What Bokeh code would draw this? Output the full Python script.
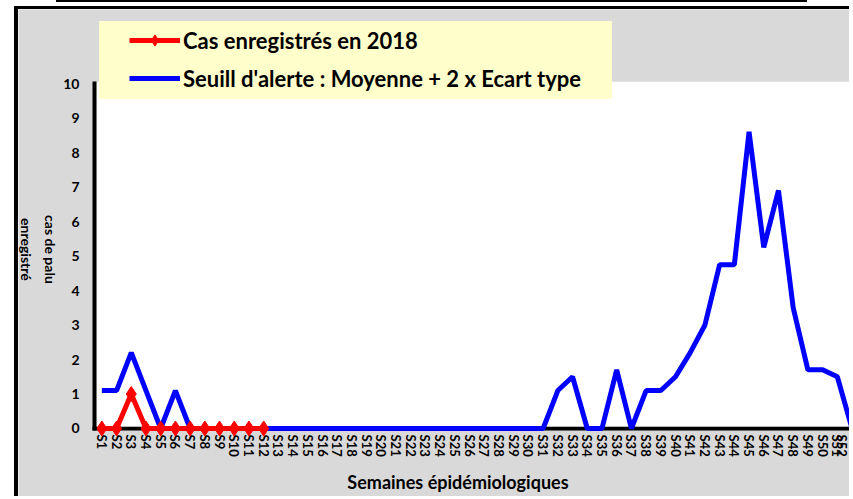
import math
from bokeh.plotting import figure
from bokeh.layouts import column
from bokeh.models import (Range1d, FixedTicker, Legend, LegendItem, BoxAnnotation,
                          Label, Div)
from bokeh.embed import file_html
from bokeh.resources import INLINE

# ---------------- data ----------------
weeks = ["S1", "S2", "S3", "S4", "S5", "S6", "S7", "S8", "S9", "S10",
         "S11", "S12", "S13", "S14", "S15", "S16", "S17", "S18", "S19", "S20",
         "S21", "S22", "S23", "S24", "S25", "S26", "S27", "S28", "S29", "S30",
         "S31", "S32", "S33", "S34", "S35", "S36", "S37", "S38", "S39", "S40",
         "S41", "S42", "S43", "S44", "S45", "S46", "S47", "S48", "S49", "S50",
         "S51", "S52"]
week_num = list(range(1, len(weeks) + 1))

seuil = [1.1, 1.1, 2.2, 1.1, 0, 1.1, 0, 0, 0, 0,
         0, 0, 0, 0, 0, 0, 0, 0, 0, 0,
         0, 0, 0, 0, 0, 0, 0, 0, 0, 0,
         0, 1.1, 1.5, 0, 0, 1.7, 0, 1.1, 1.1, 1.5,
         2.2, 3.0, 4.75, 4.75, 8.6, 5.25, 6.9, 3.5, 1.7, 1.7,
         1.5, 0]

cas_2018 = [0, 0, 1, 0, 0, 0, 0, 0, 0, 0, 0, 0]
cas_weeks = week_num[:len(cas_2018)]

y_ticks = [0, 1, 2, 3, 4, 5, 6, 7, 8, 9, 10]
y_max = 10.05

label_cas = "Cas enregistrés en 2018"
label_seuil = "Seuill d'alerte : Moyenne + 2 x Ecart type"
x_title = "Semaines épidémiologiques"
y_title = "cas de palu\nenregistré"

FONT = "Lato"
GRAY = "#d9d9d9"
YELLOW = "#ffffcc"

# the frame covers the whole grey chart panel (page x 18..853, y 9..499)
# week 0.5 sits at page x 94 (14.71 px / week); value 0 at page y 428 (34.5 px / unit)
p = figure(width=835, height=490, output_backend="svg", toolbar_location=None,
           x_range=Range1d(-4.667, 52.1), y_range=Range1d(-2.058, 12.145),
           min_border_left=0, min_border_right=0, min_border_top=0,
           min_border_bottom=0, margin=(0, 0, 0, 14),
           border_fill_color=GRAY, background_fill_color=GRAY,
           outline_line_color=None)
p.styles = {"border-left": "4px solid black", "border-top": "3px solid black"}
p.grid.visible = False

# white plotting area
p.add_layout(BoxAnnotation(left=0.636, right=60, bottom=0.058, top=y_max,
                           fill_color="white", fill_alpha=1, line_alpha=0,
                           level="underlay"))

# axes drawn at fixed positions inside the frame
p.xaxis.fixed_location = 0
p.xaxis.bounds = (0.364, 60)
p.xaxis.level = "underlay"
p.xaxis.ticker = FixedTicker(ticks=week_num)
p.xaxis.major_label_overrides = {n: w for n, w in zip(week_num, weeks)}
p.xaxis.major_label_orientation = "vertical"
p.yaxis.fixed_location = 0.5
p.yaxis.bounds = (-0.06, y_max)
p.yaxis.ticker = FixedTicker(ticks=y_ticks)
for ax in (p.xaxis, p.yaxis):
    ax.axis_line_color = "black"
    ax.axis_line_width = 4
    ax.major_tick_line_color = None
    ax.minor_tick_line_color = None
    ax.major_tick_out = 0
    ax.major_tick_in = 0
    ax.major_label_text_font = FONT
    ax.major_label_text_font_style = "bold"
    ax.major_label_text_color = "black"
p.xaxis.major_label_text_font_size = "13px"
p.xaxis.major_label_standoff = 6
p.yaxis.major_label_text_font_size = "14px"
p.yaxis.major_label_standoff = 15

# axis titles
p.add_layout(Label(x=-3.307, y=5.19, text=y_title, angle=-math.pi / 2,
                   text_align="center", text_baseline="middle",
                   text_font=FONT, text_font_style="bold", text_font_size="14px",
                   text_line_height=1.4, text_color="black"))
p.add_layout(Label(x=25.21, y=-1.565, text=x_title,
                   text_align="center", text_baseline="middle",
                   text_font=FONT, text_font_style="bold", text_font_size="18px",
                   text_color="black"))

# series
blue = p.line(week_num, seuil, line_color="#0000ff", line_width=5)
red_line = p.line(cas_weeks, cas_2018, line_color="#ff0000", line_width=5)
red_pts = p.scatter(cas_weeks, cas_2018, marker="diamond", size=15,
                    fill_color="#ff0000", line_color="#ff0000")

# yellow legend box (background)
dummy = p.line([1], [0], line_alpha=0)
bg_legend = Legend(items=[LegendItem(label=" ", renderers=[dummy])],
                   location=(99 - 18, 499 - 99), padding=0, spacing=0, margin=0,
                   glyph_width=513, glyph_height=78, label_standoff=0,
                   label_width=0, label_height=0, label_text_font_size="1px",
                   background_fill_color=YELLOW, background_fill_alpha=1,
                   border_line_color=None)
p.add_layout(bg_legend)

legend = Legend(items=[LegendItem(label=label_cas, renderers=[red_line, red_pts]),
                       LegendItem(label=label_seuil, renderers=[blue])],
                location=(129 - 18, 499 - 92), padding=9, spacing=10, margin=0,
                glyph_width=51, glyph_height=28, label_height=28, label_standoff=3,
                label_text_font=FONT, label_text_font_style="bold",
                label_text_font_size="22px", label_text_color="black",
                background_fill_alpha=0, border_line_color=None)
p.add_layout(legend)

top_line = Div(width=751, height=2, margin=(0, 0, 4, 56),
               styles={"background-color": "black"})
page = column(top_line, p, spacing=0)

open("out.html", "w").write(file_html(page, INLINE))
